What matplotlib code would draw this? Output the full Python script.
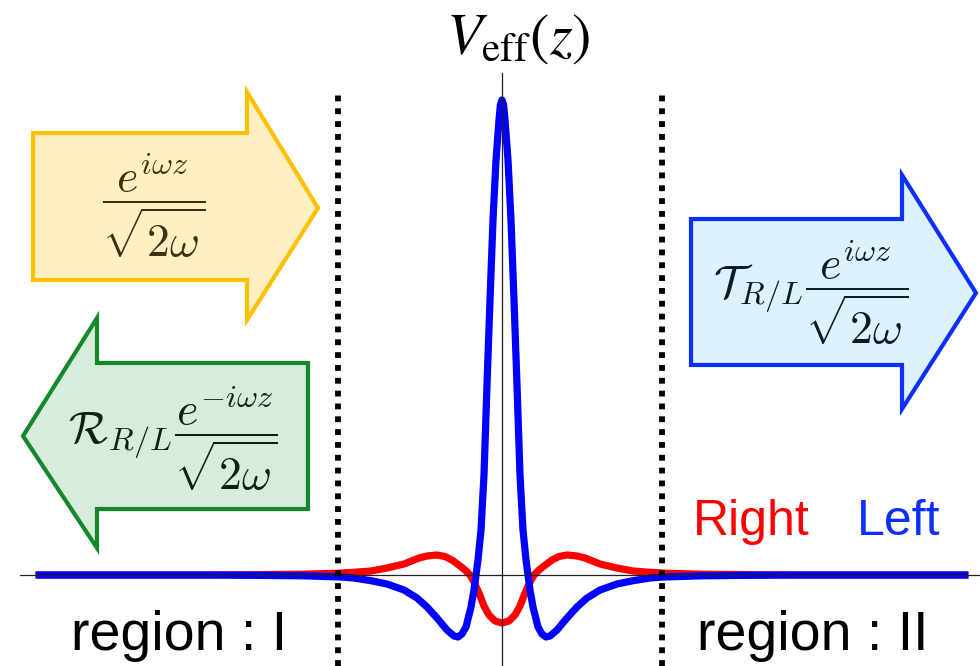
import numpy as np
import matplotlib
matplotlib.use("Agg")
import matplotlib.pyplot as plt
from matplotlib.patches import Polygon

# ---- data (half curves, z >= 0; potential is symmetric) ----
z_left_half = [0, 0.04, 0.075, 0.15, 0.225, 0.3, 0.375, 0.45, 0.525, 0.6, 0.65, 0.7,
               0.775, 0.9, 1.0, 1.1, 1.2, 1.375, 1.625, 1.875, 2.125, 2.45, 2.875,
               3.275, 3.7, 4.025, 5.0, 6.25, 7.5, 11.66]
V_left_half = [9.5, 9.4, 9.1, 8.3, 7.1, 5.5, 3.8, 2.0, 0.9, 0.3, 0.0, -0.3,
               -0.64, -1.04, -1.18, -1.24, -1.22, -1.1, -0.86, -0.64, -0.46, -0.3,
               -0.18, -0.114, -0.06, -0.04, -0.016, -0.006, 0.0, 0.0]

z_right_half = [0, 0.175, 0.325, 0.45, 0.575, 0.7, 0.8, 0.925, 1.05, 1.25, 1.425,
                1.625, 1.875, 2.075, 2.45, 2.875, 3.275, 3.7, 4.125, 5.0, 6.25,
                7.5, 11.66]
V_right_half = [-0.96, -0.92, -0.8, -0.62, -0.36, -0.14, 0.0, 0.1, 0.18, 0.3, 0.37,
                0.4, 0.38, 0.34, 0.22, 0.14, 0.08, 0.054, 0.034, 0.016, 0.006,
                0.0, 0.0]

region_bounds = [-4.1, 4.0]
labels_curves = ["Right", "Left"]
labels_regions = ["region : I", "region : II"]


def mirror(z, v):
    z = np.asarray(z, float)
    v = np.asarray(v, float)
    return np.concatenate([-z[::-1], z[1:]]), np.concatenate([v[::-1], v[1:]])


zL, VL = mirror(z_left_half, V_left_half)
zR, VR = mirror(z_right_half, V_right_half)

W, H = 980, 666
fig = plt.figure(figsize=(W / 100, H / 100), dpi=100)
ax = fig.add_axes([0, 0, 1, 1])
ax.set_xlim(-12.55, 11.95)
ax.set_ylim(-1.82, 11.5)
ax.axis("off")


def P(x, y):
    return (x / W, 1 - y / H)


# curves
ax.plot(zR, VR, color="#ff0000", lw=5.2, solid_capstyle="butt", zorder=3)
ax.plot(zL, VL, color="#0000ff", lw=5.2, solid_capstyle="butt", zorder=4)

# axes lines
ax.plot([-12.05, 11.95], [0, 0], color="#222222", lw=0.9, zorder=6)
ax.plot([0, 0], [-1.82, 10.04], color="#222222", lw=0.9, zorder=6)

# region boundaries
for zb in region_bounds:
    ax.plot([zb, zb], [-1.82, 9.6], color="black", lw=4.2,
            dashes=(1, 1.2), dash_capstyle="butt", zorder=7)

# arrows
arrows = [
    ([(33, 133), (247, 133), (247, 92), (318, 208), (247, 320), (247, 280), (33, 280)],
     "#fff0c4", "#ffc000"),
    ([(308, 363), (97, 363), (97, 318), (23, 436), (97, 548), (97, 509), (308, 509)],
     "#d8ecdc", "#14882a"),
    ([(691, 219), (902, 219), (902, 175), (976, 293), (902, 409), (902, 365), (691, 365)],
     "#dcf2fd", "#0a2fff"),
]
for pts, fc, ec in arrows:
    poly = Polygon([P(x, y) for x, y in pts], closed=True, transform=fig.transFigure,
                   facecolor=fc, edgecolor=ec, lw=3.0, joinstyle="miter", zorder=2)
    fig.patches.append(poly)

mfs = 33
fig.text(*P(154, 206), r"$\dfrac{e^{i\omega z}}{\sqrt{2\omega}}$", ha="center", va="center",
         fontsize=mfs, color="#3a3212", math_fontfamily="cm", zorder=10)
fig.text(*P(173, 439), r"$\mathcal{R}_{R/L}\dfrac{e^{-i\omega z}}{\sqrt{2\omega}}$",
         ha="center", va="center", fontsize=mfs, color="#0e2212", math_fontfamily="cm", zorder=10)
fig.text(*P(811, 293), r"$\mathcal{T}_{R/L}\dfrac{e^{i\omega z}}{\sqrt{2\omega}}$",
         ha="center", va="center", fontsize=mfs, color="#0a1a28", math_fontfamily="cm", zorder=10)

# title
fig.text(*P(518, 38), r"$V_{\mathrm{eff}}(z)$", ha="center", va="center", fontsize=42,
         color="black", math_fontfamily="stix")

# labels
fam = ["Liberation Sans", "DejaVu Sans"]
fig.text(*P(693, 535), labels_curves[0], ha="left", va="baseline", fontsize=36,
         color="#ff0000", family=fam)
fig.text(*P(857, 535), labels_curves[1], ha="left", va="baseline", fontsize=36,
         color="#0a2fff", family=fam)
fig.text(*P(71, 650), labels_regions[0], ha="left", va="baseline", fontsize=40,
         color="black", family=fam)
fig.text(*P(697, 650), labels_regions[1], ha="left", va="baseline", fontsize=40,
         color="black", family=fam)

fig.savefig("out.png", dpi=100)
